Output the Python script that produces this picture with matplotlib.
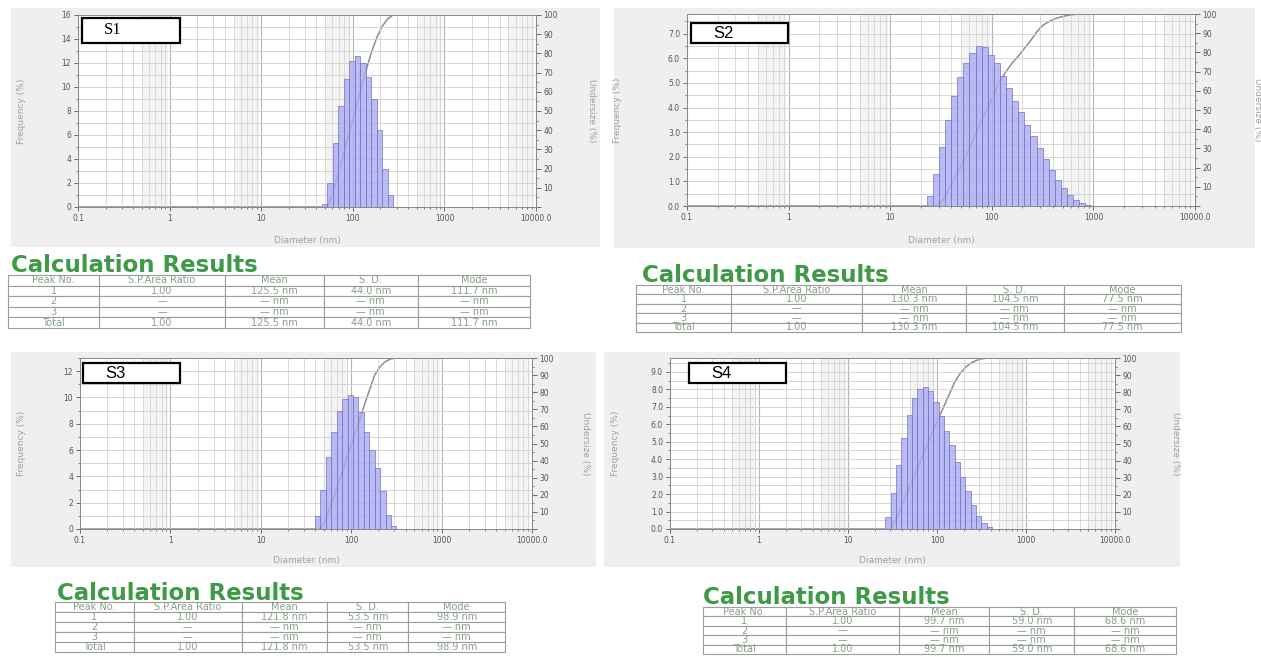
import numpy as np
import matplotlib
matplotlib.use("Agg")
import matplotlib.pyplot as plt
from matplotlib.patches import Rectangle
from matplotlib.ticker import LogLocator, MultipleLocator, NullFormatter

W, H = 1261, 657

# Shared size classes (nm), bin edges
BIN_EDGES_NM = [22.9, 26.3, 30.2, 34.7, 39.8, 45.7, 52.5, 60.3, 69.2, 79.4,
                91.2, 104.7, 120.2, 138.0, 158.5, 182.0, 208.9, 239.9, 275.4,
                316.2, 363.1, 416.9, 478.6, 549.5, 631.0, 724.4, 831.8, 955.0]

SAMPLES = ["S1", "S2", "S3", "S4"]
FIRST_BIN = [5, 0, 4, 1]

# Frequency (%) per bin
S1_FREQ = [0.25, 2.0, 5.3, 8.4, 10.7, 12.2, 12.6, 12.0, 10.8, 9.0, 6.4, 3.2, 1.0]
S2_FREQ = [0.42, 1.3, 2.4, 3.5, 4.45, 5.25, 5.8, 6.2, 6.48, 6.45, 6.15, 5.8,
           5.3, 4.8, 4.25, 3.8, 3.3, 2.85, 2.35, 1.9, 1.45, 1.05, 0.72, 0.45,
           0.25, 0.12, 0.05]
S3_FREQ = [1.0, 3.0, 5.5, 7.4, 9.0, 9.9, 10.2, 10.0, 8.9, 7.4, 6.0, 4.6, 2.9,
           1.1, 0.2]
S4_FREQ = [0.7, 2.05, 3.65, 5.2, 6.55, 7.5, 8.05, 8.15, 7.9, 7.3, 6.45, 5.6,
           4.8, 3.85, 3.0, 2.15, 1.4, 0.75, 0.35, 0.13]

# Undersize (%) at each bin edge
S1_UNDER = [0, 0, 7, 17.6, 28, 38.7, 49.3, 60, 70.4, 80, 88, 94, 98, 100]
S2_UNDER = [0, 0, 0, 4.9, 11, 17, 23.5, 30, 37, 44.8, 51, 58, 65, 70, 74.5,
            78, 82, 86, 90.5, 94, 96, 97.5, 98.5, 99.2, 99.7, 100, 100, 100]
S3_UNDER = [0, 0, 5.8, 15, 24, 33.5, 43, 52.5, 62, 71.5, 81, 90, 95, 98, 99.5,
            100]
S4_UNDER = [0, 0, 5.6, 13, 20.5, 28, 35.4, 43, 50, 58, 65, 72, 79, 86, 91,
            94.5, 97, 98.5, 99.5, 100, 100]

FREQS = [S1_FREQ, S2_FREQ, S3_FREQ, S4_FREQ]
UNDERS = [S1_UNDER, S2_UNDER, S3_UNDER, S4_UNDER]

Y_MAX = [16, 7.8, 13, 9.8]
Y_STEP = [2, 1, 2, 1]
Y_FMT = ["{:.0f}", "{:.1f}", "{:.0f}", "{:.1f}"]

X_TICKS = [0.1, 1, 10, 100, 1000, 10000]
X_TICK_LABELS = ["0.1", "1", "10", "100", "1000", "10000.0"]

# Calculation results
TABLE_HEADER = ["Peak No.", "S.P.Area Ratio", "Mean", "S. D.", "Mode"]
AREA_RATIO = [1.00, 1.00, 1.00, 1.00]
MEAN_NM = [125.5, 130.3, 121.8, 99.7]
SD_NM = [44.0, 104.5, 53.5, 59.0]
MODE_NM = [111.7, 77.5, 98.9, 68.6]

# layout in pixels (x0, y0, x1, y1)
AX_PX = [(78, 15, 536, 207), (687, 14, 1195, 206),
         (80, 358, 532, 529), (670, 358, 1115, 529)]
BG_PX = [(11, 8, 600, 247), (614, 8, 1255, 248),
         (11, 352, 596, 567), (604, 352, 1180, 567)]
BOX_PX = [(82, 18, 180, 43), (691, 23, 788, 43),
          (83, 363, 180, 383), (689, 363, 786, 383)]
XLABEL_Y = [241, 241, 560, 560]
YLABEL_X = [22, 618, 22, 615]
Y2LABEL_X = [591, 1257, 585, 1175]
TITLE_PX = [(11, 266), (642, 276), (57, 593), (703, 598)]
TABLE_PX = [(8, 275, 530, 328), (636, 285, 1181, 332),
            (55, 602, 505, 652), (703, 607, 1176, 654)]
COL_FRAC = [0.175, 0.24, 0.19, 0.18, 0.215]

TICK_COLOR = "#555555"
LABEL_COLOR = "#a0a0a0"


def px_rect(x0, y0, x1, y1):
    return [x0 / W, 1 - y1 / H, (x1 - x0) / W, (y1 - y0) / H]


fig = plt.figure(figsize=(W / 100, H / 100), dpi=100)
fig.patch.set_facecolor("white")

for i, name in enumerate(SAMPLES):
    # grey panel behind each plot
    bx0, by0, bx1, by1 = BG_PX[i]
    r = px_rect(bx0, by0, bx1, by1)
    fig.add_artist(Rectangle((r[0], r[1]), r[2], r[3], transform=fig.transFigure,
                             facecolor="#efefef", edgecolor="none", zorder=-5))

    ax = fig.add_axes(px_rect(*AX_PX[i]))
    ax2 = ax.twinx()
    ax.set_zorder(ax2.get_zorder() + 1)
    ax.patch.set_visible(False)
    ax2.patch.set_visible(True)
    ax2.patch.set_facecolor("white")

    first = FIRST_BIN[i]
    freq = FREQS[i]
    edges = BIN_EDGES_NM[first:first + len(freq) + 1]
    lefts = edges[:-1]
    widths = np.diff(edges)

    # faint bands in the upper half of each decade
    for dec in [0.1, 1, 10, 100, 1000]:
        ax2.axvspan(5 * dec, 9.5 * dec, color="#f4f4f4", lw=0, zorder=0)

    ax.bar(lefts, freq, width=widths, align="edge", facecolor="#acacf2",
           edgecolor="#6e6ec6", linewidth=0.6, alpha=0.8, zorder=3)

    # undersize curve on the right-hand axis
    ux = [0.1] + edges + [10000]
    uy = [0] + UNDERS[i] + [100]
    ax2.plot(ux, uy, color="#8c8c9a", lw=1.1, zorder=2)

    for a in (ax, ax2):
        a.set_xscale("log")
        a.set_xlim(0.1, 10000)
    ax.set_ylim(0, Y_MAX[i])
    ax2.set_ylim(0, 100)

    ax.set_xticks(X_TICKS, X_TICK_LABELS)
    ax.xaxis.set_minor_locator(LogLocator(base=10, subs=np.arange(2, 10), numticks=30))
    ax.xaxis.set_minor_formatter(NullFormatter())

    yt = np.arange(0, Y_MAX[i] + 0.01, Y_STEP[i])
    ax.set_yticks(yt, [Y_FMT[i].format(v) for v in yt])
    ax.yaxis.set_minor_locator(MultipleLocator(Y_STEP[i] / 2))

    ax2.set_yticks(np.arange(0, 101, 10),
                   [""] + [str(v) for v in range(10, 101, 10)])
    ax2.yaxis.set_minor_locator(MultipleLocator(5))

    ax.grid(which="major", axis="x", color="#b4b4b4", lw=0.8, zorder=0)
    ax.grid(which="minor", axis="x", color="#d4d4d4", lw=0.6, zorder=0)
    ax.grid(which="both", axis="y", color="#d0d0d0", lw=0.6, zorder=0)
    ax.set_axisbelow(True)

    ax.tick_params(axis="both", which="major", labelsize=5.5, colors=TICK_COLOR,
                   length=3, width=0.6, pad=2)
    ax.tick_params(axis="both", which="minor", length=1.5, width=0.5,
                   colors=TICK_COLOR)
    ax2.tick_params(axis="y", which="major", labelsize=5.5, colors=TICK_COLOR,
                    length=3.5, width=0.6, pad=2)
    ax2.tick_params(axis="y", which="minor", length=1.5, width=0.5,
                    colors=TICK_COLOR)

    for a in (ax, ax2):
        for s in a.spines.values():
            s.set_color("#8a8a8a")
            s.set_linewidth(0.7)

    # axis titles
    x0, y0, x1, y1 = AX_PX[i]
    fig.text(((x0 + x1) / 2) / W, 1 - XLABEL_Y[i] / H, "Diameter (nm)",
             ha="center", va="center", fontsize=6.5, color=LABEL_COLOR)
    fig.text(YLABEL_X[i] / W, 1 - ((y0 + y1) / 2) / H, "Frequency (%)",
             ha="center", va="center", rotation=90, fontsize=6.5, color=LABEL_COLOR)
    fig.text(Y2LABEL_X[i] / W, 1 - ((y0 + y1) / 2) / H, "Undersize (%)",
             ha="center", va="center", rotation=270, fontsize=6.5, color=LABEL_COLOR)

    # sample name box
    kx0, ky0, kx1, ky1 = BOX_PX[i]
    r = px_rect(kx0, ky0, kx1, ky1)
    fig.add_artist(Rectangle((r[0], r[1]), r[2], r[3], transform=fig.transFigure,
                             facecolor="white", edgecolor="black", lw=1.6, zorder=20))
    fam = "Liberation Serif" if name == "S1" else "Liberation Sans"
    fig.text((kx0 + 22) / W, 1 - ((ky0 + ky1) / 2) / H, name, ha="left",
             va="center", fontsize=12, family=fam, color="black", zorder=21)

    # calculation results table
    tx, ty = TITLE_PX[i]
    fig.text(tx / W, 1 - ty / H, "Calculation Results", ha="left", va="center",
             fontsize=16.5, fontweight="bold", color="#3f9a47",
             family="DejaVu Sans")

    rows = [["1", f"{AREA_RATIO[i]:.2f}", f"{MEAN_NM[i]:.1f} nm",
             f"{SD_NM[i]:.1f} nm", f"{MODE_NM[i]:.1f} nm"],
            ["2", "\u2014", "\u2014 nm", "\u2014 nm", "\u2014 nm"],
            ["3", "\u2014", "\u2014 nm", "\u2014 nm", "\u2014 nm"],
            ["Total", f"{AREA_RATIO[i]:.2f}", f"{MEAN_NM[i]:.1f} nm",
             f"{SD_NM[i]:.1f} nm", f"{MODE_NM[i]:.1f} nm"]]
    tax = fig.add_axes(px_rect(*TABLE_PX[i]))
    tax.axis("off")
    tbl = tax.table(cellText=rows, colLabels=TABLE_HEADER, colWidths=COL_FRAC,
                    cellLoc="center", bbox=[0, 0, 1, 1])
    tbl.auto_set_font_size(False)
    tbl.set_fontsize(7)
    for cell in tbl.get_celld().values():
        cell.set_edgecolor("#9c9c9c")
        cell.set_linewidth(0.8)
        cell.get_text().set_color("#86a086")

fig.savefig("out.png", dpi=100)
